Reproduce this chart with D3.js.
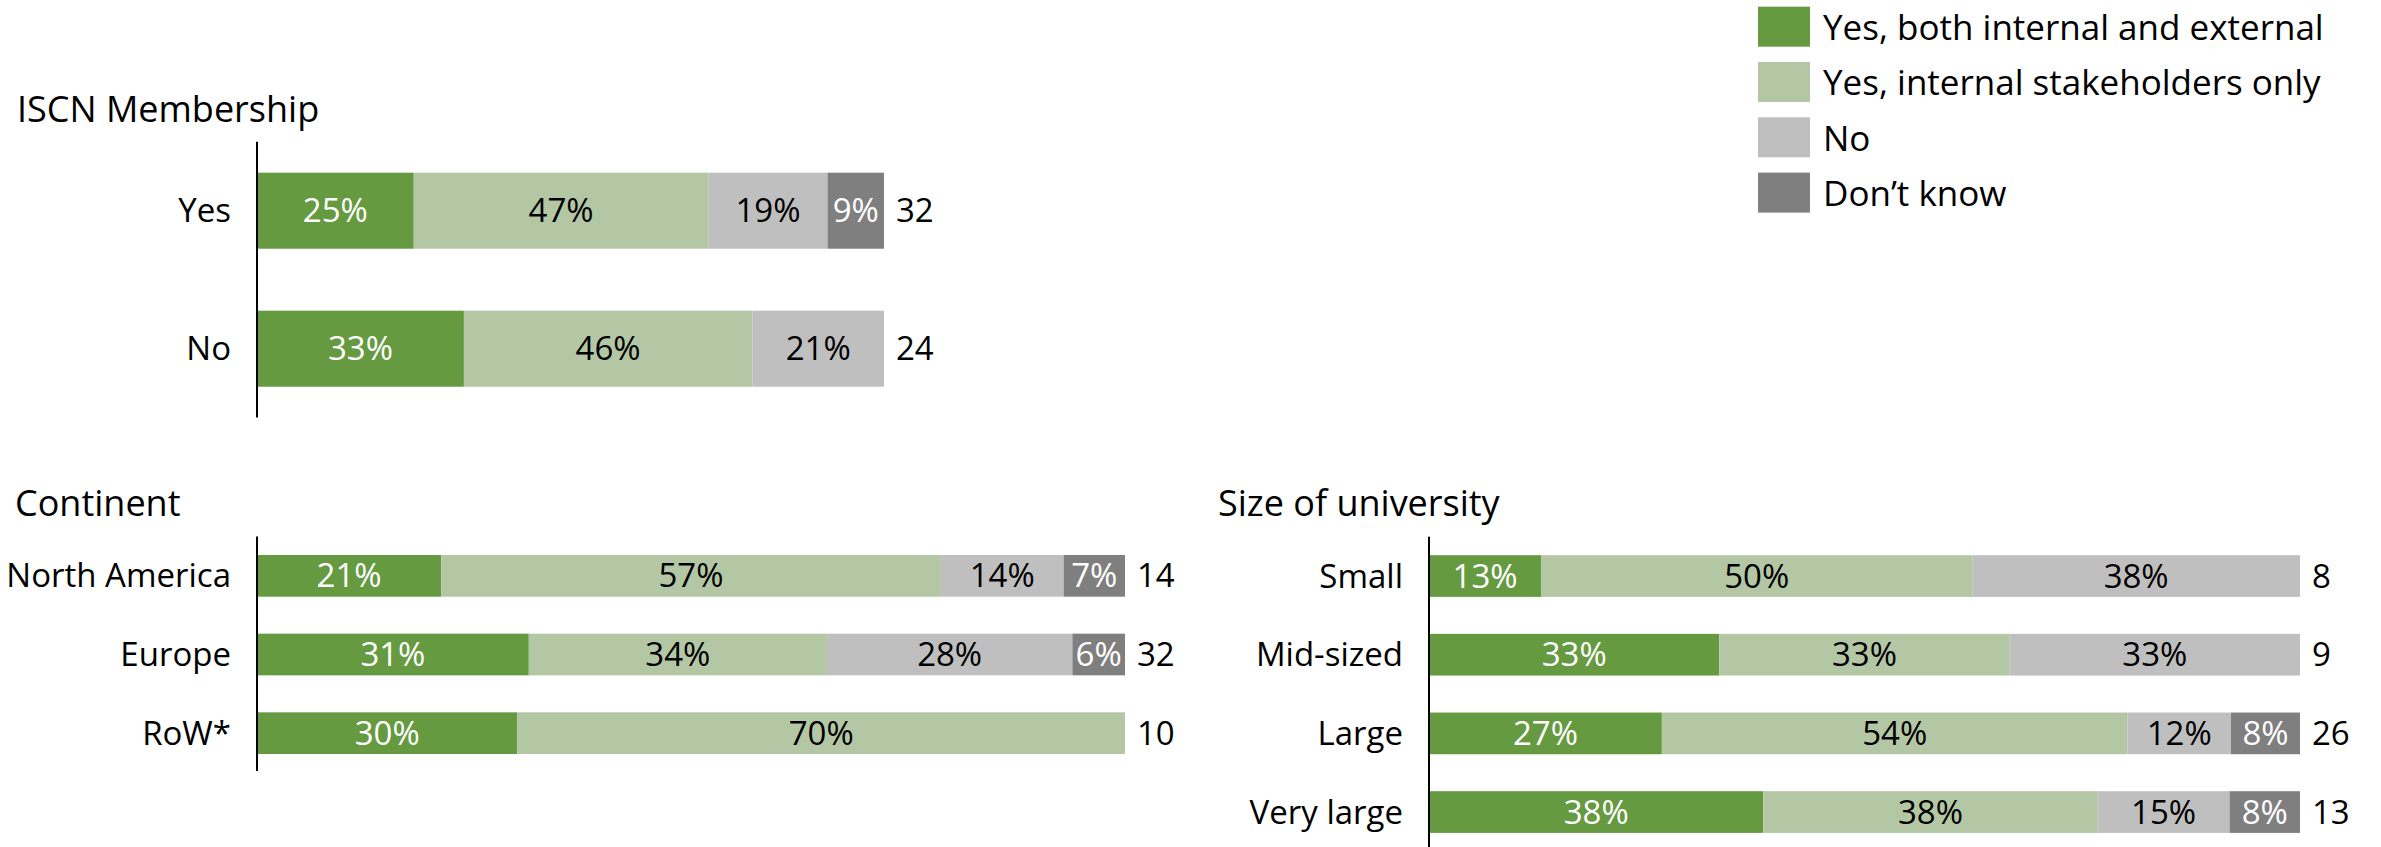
<!DOCTYPE html>
<html>
<head>
<meta charset="utf-8">
<script src="https://cdn.jsdelivr.net/npm/d3@7"></script>
<style>
  html, body { margin: 0; padding: 0; background: #ffffff; }
  svg { display: block; font-family: "Open Sans", "Noto Sans", sans-serif; }
</style>
</head>
<body>
<svg id="chart" width="2381" height="847"></svg>
<script>
// Response categories (stack order, left to right)
const seriesNames = [
  "Yes, both internal and external",
  "Yes, internal stakeholders only",
  "No",
  "Don\u2019t know"
];
const seriesColors = ["#659A41", "#B3C7A5", "#BFBFBF", "#7F7F7F"];
const seriesTextColors = ["#FFFFFF", "#000000", "#000000", "#FFFFFF"];

// ISCN Membership
const iscnCategories = ["Yes", "No"];
const iscnBoth = [25, 33];
const iscnInternal = [47, 46];
const iscnNo = [19, 21];
const iscnDontKnow = [9, 0];
const iscnN = [32, 24];

// Continent
const continentCategories = ["North America", "Europe", "RoW*"];
const continentBoth = [21, 31, 30];
const continentInternal = [57, 34, 70];
const continentNo = [14, 28, 0];
const continentDontKnow = [7, 6, 0];
const continentN = [14, 32, 10];

// Size of university
const sizeCategories = ["Small", "Mid-sized", "Large", "Very large"];
const sizeBoth = [13, 33, 27, 38];
const sizeInternal = [50, 33, 54, 38];
const sizeNo = [38, 33, 12, 15];
const sizeDontKnow = [0, 0, 8, 8];
const sizeN = [8, 9, 26, 13];

const keys = ["s0", "s1", "s2", "s3"];

function rows(categories, a, b, c, d, n) {
  return categories.map((cat, i) => ({ cat, s0: a[i], s1: b[i], s2: c[i], s3: d[i], n: n[i] }));
}

const panels = [
  {
    title: "ISCN Membership", titleX: 17, titleY: 122,
    data: rows(iscnCategories, iscnBoth, iscnInternal, iscnNo, iscnDontKnow, iscnN),
    x0: 257, x1: 884, top: 141.7, step: 138, pad: 0.449, axisEnd: 417.5
  },
  {
    title: "Continent", titleX: 15, titleY: 516,
    data: rows(continentCategories, continentBoth, continentInternal, continentNo, continentDontKnow, continentN),
    x0: 257, x1: 1125, top: 536.5, step: 78.67, pad: 0.47, axisEnd: 771
  },
  {
    title: "Size of university", titleX: 1218, titleY: 516,
    data: rows(sizeCategories, sizeBoth, sizeInternal, sizeNo, sizeDontKnow, sizeN),
    x0: 1429, x1: 2300, top: 536.7, step: 78.67, pad: 0.47, axisEnd: 851
  }
];

const svg = d3.select("#chart");
const labelSize = 33;
const titleSize = 36;

panels.forEach(p => {
  const g = svg.append("g");
  const n = p.data.length;

  const y = d3.scaleBand()
    .domain(p.data.map(d => d.cat))
    .range([p.top, p.top + n * p.step])
    .paddingInner(p.pad)
    .paddingOuter(p.pad / 2);

  // each row is shown as shares of its own total
  const x = d3.scaleLinear().domain([0, 1]).range([p.x0, p.x1]);

  const stacked = d3.stack().keys(keys).offset(d3.stackOffsetExpand)(p.data);

  // panel title
  g.append("text")
    .attr("x", p.titleX)
    .attr("y", p.titleY)
    .attr("font-size", titleSize)
    .attr("fill", "#000")
    .text(p.title);

  // bar segments
  const layers = g.selectAll("g.layer")
    .data(stacked)
    .join("g")
    .attr("class", "layer")
    .attr("fill", (d, i) => seriesColors[i]);

  layers.selectAll("rect")
    .data(d => d)
    .join("rect")
    .attr("x", d => x(d[0]))
    .attr("y", d => y(d.data.cat))
    .attr("width", d => Math.max(0, x(d[1]) - x(d[0])))
    .attr("height", y.bandwidth());

  // percentage labels inside segments
  stacked.forEach((layer, i) => {
    g.append("g")
      .selectAll("text")
      .data(layer.filter(d => d.data[keys[i]] > 0))
      .join("text")
      .attr("x", d => (x(d[0]) + x(d[1])) / 2)
      .attr("y", d => y(d.data.cat) + y.bandwidth() / 2)
      .attr("dy", "0.35em")
      .attr("text-anchor", "middle")
      .attr("font-size", labelSize)
      .attr("fill", seriesTextColors[i])
      .text(d => d.data[keys[i]] + "%");
  });

  // respondent counts after each bar
  g.append("g")
    .selectAll("text")
    .data(p.data)
    .join("text")
    .attr("x", p.x1 + 12)
    .attr("y", d => y(d.cat) + y.bandwidth() / 2)
    .attr("dy", "0.35em")
    .attr("font-size", labelSize)
    .attr("fill", "#000")
    .text(d => d.n);

  // category axis
  const axis = g.append("g")
    .attr("transform", `translate(${p.x0},0)`)
    .call(d3.axisLeft(y).tickSize(0).tickSizeOuter(0).tickPadding(26));
  axis.select(".domain")
    .attr("stroke", "#000")
    .attr("stroke-width", 2)
    .attr("d", `M0,${p.top}V${p.axisEnd}`);
  axis.selectAll(".tick text")
    .attr("font-size", labelSize)
    .attr("font-family", "\"Open Sans\", \"Noto Sans\", sans-serif")
    .attr("fill", "#000")
    .attr("dy", "0.35em");
});

// legend
const legend = svg.append("g");
const legendItems = legend.selectAll("g")
  .data(seriesNames)
  .join("g")
  .attr("transform", (d, i) => `translate(1758,${6.7 + i * 55.3})`);

legendItems.append("rect")
  .attr("width", 52)
  .attr("height", 40)
  .attr("fill", (d, i) => seriesColors[i]);

legendItems.append("text")
  .attr("x", 65)
  .attr("y", 20)
  .attr("dy", "0.38em")
  .attr("font-size", 35)
  .attr("fill", "#000")
  .text(d => d);
</script>
</body>
</html>
